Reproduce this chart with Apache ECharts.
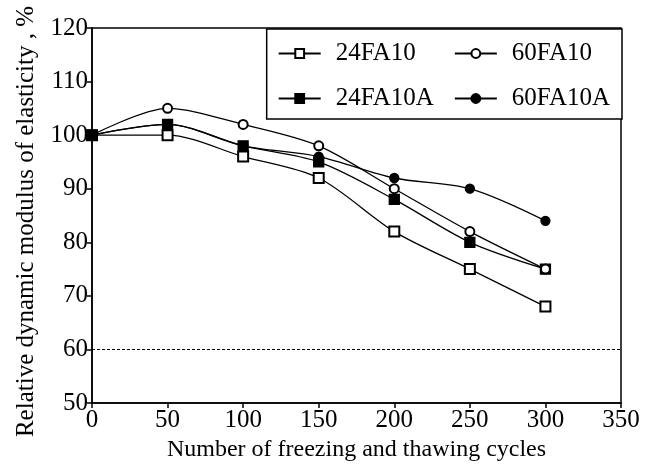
<!DOCTYPE html>
<html>
<head>
<meta charset="utf-8">
<script src="https://cdn.jsdelivr.net/npm/echarts@6/dist/echarts.min.js"></script>
<style>
  html, body { margin: 0; padding: 0; background: #fff; }
  #main { width: 655px; height: 473px; }
</style>
</head>
<body>
<div id="main"></div>
<script>
// freezing-thawing cycles
const cycles = [0, 50, 100, 150, 200, 250, 300]
const s24FA10 = [100, 100, 96, 92, 82, 75, 68]
const s60FA10 = [100, 105, 102, 98, 90, 82, 75]
const s24FA10A = [100, 102, 98, 95, 88, 80, 75]
const s60FA10A = [100, 102, 98, 96, 92, 90, 84]
const limitLine = 60

const font = 'Liberation Serif'

function pairs(vals) {
    return cycles.map((c, i) => [c, vals[i]])
}

function lineSeries(name, vals, symbol, size) {
    return {
        name: name,
        type: 'line',
        data: pairs(vals),
        smooth: 0.3,
        symbol: symbol,
        symbolSize: size,
        lineStyle: { color: '#000', width: 1.3 },
        itemStyle: { color: '#000', borderColor: '#000', borderWidth: 1.3 }
    }
}

var myChart = echarts.init(document.getElementById('main'))

var series = [
    lineSeries('24FA10', s24FA10, 'emptyRect', 10),
    lineSeries('24FA10A', s24FA10A, 'rect', 10),
    lineSeries('60FA10', s60FA10, 'emptyCircle', 9),
    lineSeries('60FA10A', s60FA10A, 'circle', 9)
]
series[0].markLine = {
    silent: true,
    symbol: 'none',
    label: { show: false },
    lineStyle: { color: '#000', type: [3, 2], width: 1 },
    data: [{ yAxis: limitLine }]
}

var option = {
    backgroundColor: '#fff',
    animation: false,
    grid: { left: 92, right: 34, top: 28, bottom: 70, containLabel: false, outerBoundsMode: 'none' },
    legend: {
        orient: 'vertical',
        right: 33,
        top: 29,
        height: 80,
        padding: [12, 12, 8, 11],
        itemGap: 20,
        itemWidth: 42,
        itemHeight: 11,
        borderColor: '#000',
        borderWidth: 1.5,
        backgroundColor: '#fff',
        textStyle: { fontFamily: font, fontSize: 25, color: '#000', padding: [0, 0, 0, 10] },
        data: ['24FA10', '24FA10A', '60FA10', '60FA10A']
    },
    xAxis: {
        type: 'value',
        min: 0,
        max: 350,
        interval: 50,
        name: 'Number of freezing and thawing cycles',
        nameLocation: 'middle',
        nameGap: 32,
        nameTextStyle: { fontFamily: font, fontSize: 24, color: '#000' },
        axisLine: { lineStyle: { color: '#000', width: 1.5 } },
        axisTick: { length: 5, lineStyle: { color: '#000', width: 1.5 } },
        axisLabel: { fontFamily: font, fontSize: 25, color: '#000', margin: 5 },
        splitLine: { show: false }
    },
    yAxis: {
        type: 'value',
        min: 50,
        max: 120,
        interval: 10,
        name: 'Relative dynamic modulus of elasticity , %',
        nameLocation: 'middle',
        nameGap: 53,
        nameTextStyle: { fontFamily: font, fontSize: 25, color: '#000', padding: [0, 12, 0, 0] },
        axisLine: { show: true, lineStyle: { color: '#000', width: 1.5 } },
        axisTick: { show: true, length: 5, lineStyle: { color: '#000', width: 1.5 } },
        axisLabel: { fontFamily: font, fontSize: 25, color: '#000', margin: 4 },
        splitLine: { show: false }
    },
    series: series,
    graphic: [
        // closing top and right frame
        {
            type: 'rect',
            shape: { x: 92, y: 28, width: 529, height: 375 },
            style: { fill: 'none', stroke: '#000', lineWidth: 1.5 },
            silent: true,
            z: -1
        }
    ]
}

myChart.setOption(option)
</script>
</body>
</html>
